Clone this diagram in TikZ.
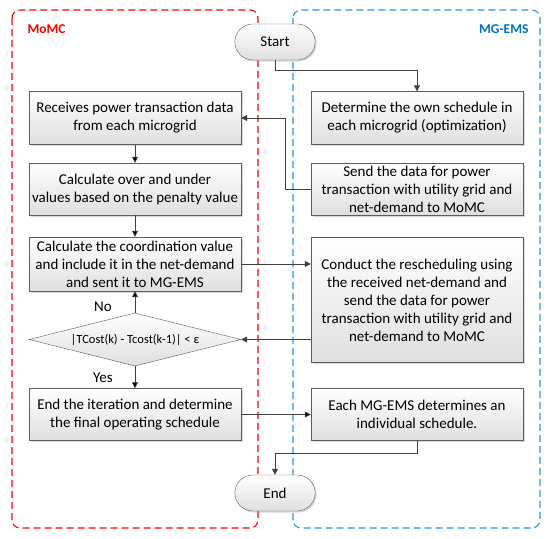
\documentclass[tikz,border=0pt]{standalone}
\usepackage{fontspec}
\setmainfont{Carlito}
\usetikzlibrary{positioning,shapes.geometric,shapes.misc,shadows,arrows.meta}
\definecolor{momcred}{RGB}{255,0,0}
\definecolor{emsblue}{RGB}{0,112,192}
\definecolor{emsline}{RGB}{40,150,220}
\definecolor{linegray}{RGB}{64,64,64}

\begin{document}
\begin{tikzpicture}[
	x=1pt, y=-1pt,
	node distance=75pt,
	on grid,
	font=\fontsize{15}{18}\selectfont,
	align=center,
	process/.style={
		rectangle,
		draw=linegray!85,
		top color=white,
		bottom color=gray!25,
		minimum width=212pt,
		minimum height=52pt,
		inner sep=2pt,
		drop shadow={shadow xshift=1.5pt, shadow yshift=-1.5pt, opacity=.3}
	},
	terminal/.style={
		rounded rectangle,
		draw=linegray!85,
		top color=white,
		bottom color=gray!25,
		minimum width=87pt,
		minimum height=36pt,
		drop shadow={shadow xshift=1.5pt, shadow yshift=-1.5pt, opacity=.3}
	},
	decision/.style={
		diamond,
		aspect=4,
		draw=linegray!85,
		top color=white,
		bottom color=gray!25,
		minimum width=212pt,
		minimum height=53pt,
		inner sep=1pt,
		font=\fontsize{12.5}{15}\selectfont
	},
	flow/.style={
		draw=linegray,
		line width=0.8pt,
		-{Triangle[length=6pt,width=6pt]}
	},
	lane/.style={
		line width=1.1pt,
		dash pattern=on 7pt off 4pt,
		rounded corners=8pt
	}]

	\useasboundingbox (0,0) rectangle (550,539);

	% the two swim lanes
	\draw[lane, momcred] (12,10) rectangle (258,528);
	\draw[lane, emsline] (293,10) rectangle (540,528);
	\node[anchor=west, text=momcred, font=\fontsize{13.5}{16}\selectfont\bfseries] (momc) at (24,29) {MoMC};
	\node[anchor=east, text=emsblue, font=\fontsize{13.5}{16}\selectfont\bfseries] (mgems) at (532,29) {MG-EMS};

	\node[terminal] (start) at (275,42) {Start};

	% MoMC side
	\node[process, minimum height=53pt] (l1) at (135,118) {Receives power transaction data\\from each microgrid};
	\node[process, below=71pt of l1] (l2) {Calculate over and under\\values based on the penalty value};
	\node[process, minimum height=54pt, below=of l2] (l3) {Calculate the coordination value\\and include it in the net-demand\\and sent it to MG-EMS};
	\node[decision, below=75.5pt of l3] (dec) {|TCost(k) - Tcost(k-1)| < ε};
	\node[process, below=of dec] (l4) {End the iteration and determine\\the final operating schedule};

	% MG-EMS side
	\node[process, minimum height=53pt, right=282pt of l1] (r1) {Determine the own schedule in\\each microgrid (optimization)};
	\node[process, right=282pt of l2] (r2) {Send the data for power\\transaction with utility grid and\\net-demand to MoMC};
	\node[process, minimum height=125pt] (r3) at (417,300) {Conduct the rescheduling using\\the received net-demand and\\send the data for power\\transaction with utility grid and\\net-demand to MoMC};
	\node[process, right=282pt of l4] (r4) {Each MG-EMS determines an\\individual schedule.};

	\node[terminal] (end) at (275,493) {End};

	\draw[flow] (start.south) -- ++(0,10) -| (r1.north);
	\draw[flow] (r2.west) -- ++(-25,0) |- (l1.east);
	\draw[flow] (l3.east) -- (r3.west |- l3.east);
	\draw[flow] (r3.west |- dec.east) -- (dec.east);
	\draw[flow] (r4.south) -- ++(0,13) -| (end.north);
	\path[flow]
		(l1) edge (l2)
		(l2) edge (l3)
		(dec) edge node[pos=.3, xshift=-32pt] {No} (l3)
		(dec) edge node[pos=.5, xshift=-32pt] {Yes} (l4)
		(l4) edge (r4);
\end{tikzpicture}
\end{document}
